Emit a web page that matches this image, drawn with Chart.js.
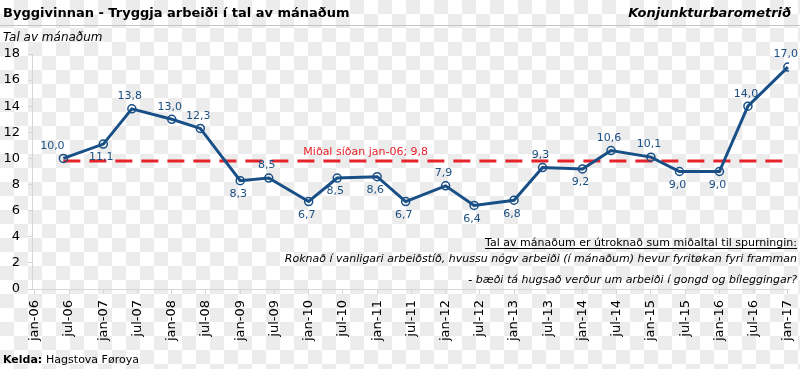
<!DOCTYPE html>
<html>
<head>
<meta charset="utf-8">
<script src="https://cdn.jsdelivr.net/npm/chart.js@4.4.1/dist/chart.umd.min.js"></script>
<style>
  html, body { margin: 0; padding: 0; }
  body {
    width: 800px; height: 369px; overflow: hidden;
    background-color: #fff;
    background-image: conic-gradient(#ececec 25%, #fff 0 50%, #ececec 0 75%, #fff 0);
    background-size: 28px 28px;
  }
  #wrap { position: relative; width: 800px; height: 369px; }
</style>
</head>
<body>
<div id="wrap"><canvas id="chart" width="800" height="369"></canvas></div>
<script>
// Byggivinnan - tryggja arbeiði í tal av mánaðum
// mánaðir talt frá jan-06 (0 = jan-06)
const months = [5, 12, 17, 24, 29, 36, 41, 48, 53, 60, 65, 72, 77, 84, 89, 96, 101, 108, 113, 120, 125, 132];
const values = [10.0, 11.1, 13.8, 13.0, 12.3, 8.3, 8.5, 6.7, 8.5, 8.6, 6.7, 7.9, 6.4, 6.8, 9.3, 9.2, 10.6, 10.1, 9.0, 9.0, 14.0, 17.0];
const average = 9.8;
const tickLabels = ["jan-06","jul-06","jan-07","jul-07","jan-08","jul-08","jan-09","jul-09","jan-10","jul-10","jan-11","jul-11",
  "jan-12","jul-12","jan-13","jul-13","jan-14","jul-14","jan-15","jul-15","jan-16","jul-16","jan-17"];
const yTicks = [0, 2, 4, 6, 8, 10, 12, 14, 16, 18];

// hvar talið stendur í mun til punktið
const labelSide = ["aboveLeft","below","above","above","above","below","above","below","below","below","below","above",
  "below","below","above","below","above","above","below","below","above","above"];

const BLUE = "#184f86";
const RED = "#e5232b";
const FONT = "'DejaVu Sans', Verdana, sans-serif";

function fmt(v) { return v.toFixed(1).replace(".", ","); }

const decor = {
  id: "decor",
  afterDatasetsDraw(chart) {
    const ctx = chart.ctx;
    const meta = chart.getDatasetMeta(0);
    ctx.save();
    ctx.font = "11px " + FONT;
    ctx.fillStyle = "#1c4f82";
    ctx.textAlign = "center";
    meta.data.forEach((pt, i) => {
      const side = labelSide[i];
      let x = pt.x - 2, y;
      if (side === "below") { ctx.textBaseline = "top"; y = pt.y + 8; }
      else { ctx.textBaseline = "bottom"; y = pt.y - 7; }
      if (side === "aboveLeft") x = pt.x - 11;
      ctx.fillText(fmt(values[i]), x, y);
    });

    // miðal
    const xs = chart.scales.x, ys = chart.scales.y;
    ctx.font = "11px " + FONT;
    ctx.fillStyle = RED;
    ctx.textBaseline = "alphabetic";
    ctx.fillText("Miðal síðan jan-06; " + fmt(average), xs.getPixelForValue(58), ys.getPixelForValue(average) - 6);
    ctx.restore();
  },
  afterDraw(chart) {
    const ctx = chart.ctx;
    ctx.save();
    ctx.fillStyle = "#000";
    ctx.textBaseline = "alphabetic";

    ctx.font = "bold 13px " + FONT;
    ctx.textAlign = "left";
    ctx.fillText("Byggivinnan - Tryggja arbeiði í tal av mánaðum", 3, 17);
    ctx.font = "italic bold 13px " + FONT;
    ctx.textAlign = "right";
    ctx.fillText("Konjunkturbarometrið", 791, 17);

    ctx.strokeStyle = "#c4c4c4";
    ctx.lineWidth = 1;
    ctx.beginPath(); ctx.moveTo(0, 25.5); ctx.lineTo(800, 25.5); ctx.stroke();

    ctx.font = "italic 12px " + FONT;
    ctx.textAlign = "left";
    ctx.fillText("Tal av mánaðum", 3, 41);

    // frágreiðing
    const rx = 797;
    ctx.textAlign = "right";
    ctx.font = "11px " + FONT;
    const l1 = "Tal av mánaðum er útroknað sum miðaltal til spurningin:";
    ctx.fillText(l1, rx, 246);
    const w1 = ctx.measureText(l1).width;
    ctx.strokeStyle = "#000";
    ctx.beginPath(); ctx.moveTo(rx - w1, 248.5); ctx.lineTo(rx, 248.5); ctx.stroke();
    ctx.font = "italic 11px " + FONT;
    ctx.fillText("Roknað í vanligari arbeiðstíð, hvussu nógv arbeiði (í mánaðum) hevur fyritøkan fyri framman", rx, 262);
    ctx.fillText("- bæði tá hugsað verður um arbeiði í gongd og bíleggingar?", rx, 283);

    // kelda
    ctx.textAlign = "left";
    ctx.font = "bold 11px " + FONT;
    ctx.fillText("Kelda:", 3, 363);
    const kw = ctx.measureText("Kelda: ").width;
    ctx.font = "11px " + FONT;
    ctx.fillText("Hagstova Føroya", 3 + kw, 363);
    ctx.restore();
  }
};

new Chart(document.getElementById("chart"), {
  type: "line",
  data: {
    datasets: [
      {
        label: "Tal av mánaðum",
        data: months.map((m, i) => ({ x: m, y: values[i] })),
        borderColor: BLUE,
        borderWidth: 3,
        pointRadius: 4,
        pointBorderWidth: 1.5,
        pointBackgroundColor: "rgba(0,0,0,0)",
        pointBorderColor: BLUE,
        tension: 0,
        order: 1
      },
      {
        label: "Miðal",
        data: [{ x: months[0], y: average }, { x: months[months.length - 1], y: average }],
        borderColor: RED,
        borderWidth: 3,
        borderDash: [17, 9],
        pointRadius: 0,
        order: 2
      }
    ]
  },
  options: {
    responsive: false,
    devicePixelRatio: 1,
    animation: false,
    layout: { padding: { top: 54, left: 0, right: 11, bottom: 18 } },
    plugins: { legend: { display: false }, tooltip: { enabled: false } },
    scales: {
      x: {
        type: "linear",
        min: -0.5,
        max: 132.2,
        afterFit: s => { s.height = 62; s.paddingLeft = 0; s.paddingRight = 0; },
        afterBuildTicks: s => { s.ticks = tickLabels.map((_, i) => ({ value: i * 6 })); },
        ticks: {
          autoSkip: false,
          minRotation: 90,
          maxRotation: 90,
          padding: 6,
          color: "#000",
          font: { family: FONT, size: 13 },
          callback: v => tickLabels[Math.round(v / 6)]
        },
        grid: { drawOnChartArea: false, color: "#d6d6d6", tickLength: 5 },
        border: { color: "#d6d6d6" }
      },
      y: {
        min: 0,
        max: 18,
        afterFit: s => { s.width = 32; },
        afterBuildTicks: s => { s.ticks = yTicks.map(v => ({ value: v })); },
        ticks: {
          padding: 8,
          color: "#000",
          font: { family: FONT, size: 13 }
        },
        grid: { drawOnChartArea: false, color: "#d6d6d6", tickLength: 4 },
        border: { color: "#d6d6d6" }
      }
    }
  },
  plugins: [decor]
});
</script>
</body>
</html>
